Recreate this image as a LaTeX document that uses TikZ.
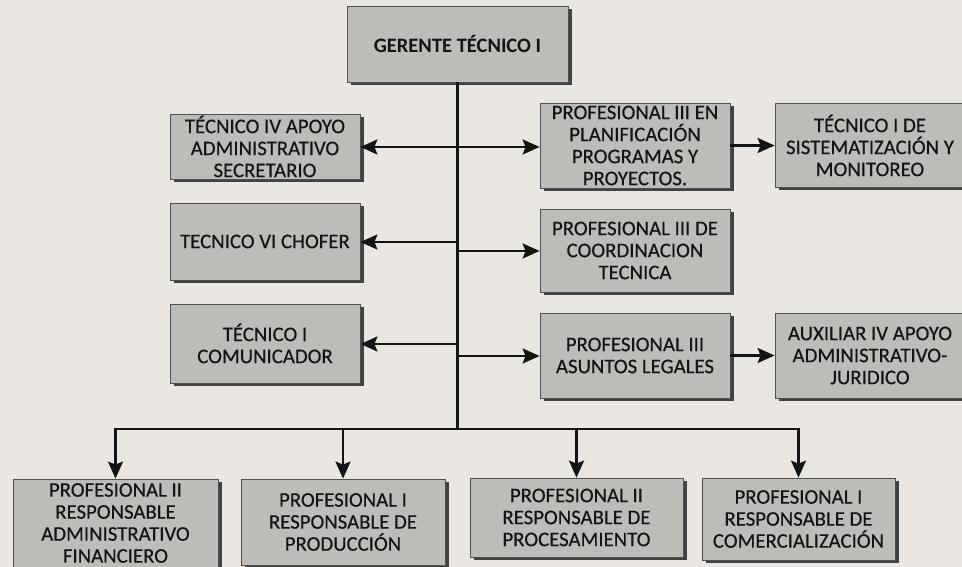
\documentclass[tikz,border=0pt]{standalone}
\usepackage{fontspec}
\setmainfont{Carlito}
\newfontfamily\cajafont{Carlito}[FakeBold=0.4]
\usetikzlibrary{arrows.meta,shadows}
\definecolor{fondo}{RGB}{234,230,225}
\definecolor{caja}{RGB}{190,188,184}
\definecolor{borde}{RGB}{80,80,80}
\definecolor{sombra}{RGB}{65,65,65}
\definecolor{tinta}{RGB}{20,20,20}
\begin{document}
\begin{tikzpicture}[x=1pt,y=1pt,yscale=-1,xscale=1,
  puesto/.style={draw=borde,line width=0.8pt,fill=caja,inner sep=0pt,align=center,text=tinta,
    font=\cajafont\fontsize{20.8}{22}\selectfont,
    drop shadow={shadow xshift=4pt,shadow yshift=-3pt,fill=sombra,opacity=1}},
  linea/.style={line width=2.4pt,draw=tinta},
  flecha/.style={linea,-{Stealth[length=17pt,width=15pt,inset=3pt]}}]
\useasboundingbox (0,0) rectangle (962,567);
\clip (0,0) rectangle (962,567);
%Shape: Background
\fill[fondo] (0,0) rectangle (962,567);
%Shape: Rectangle (top)
\node[puesto,font=\bfseries\fontsize{20.5}{22}\selectfont,minimum width=221pt,minimum height=76pt] (gerente) at (457.5,44) {GERENTE TÉCNICO I};
%Shape: Rectangle (left column)
\node[puesto,minimum width=190pt,minimum height=65pt] (apoyo) at (265,146.5) {TÉCNICO IV APOYO\\ADMINISTRATIVO\\SECRETARIO};
\node[puesto,minimum width=190pt,minimum height=77pt] (chofer) at (265,241.5) {TECNICO VI CHOFER};
\node[puesto,minimum width=190pt,minimum height=79pt] (comunic) at (265,343.5) {TÉCNICO I\\COMUNICADOR};
%Shape: Rectangle (middle column)
\node[puesto,minimum width=190pt,minimum height=85pt] (planif) at (635,145.5) {PROFESIONAL III EN\\PLANIFICACIÓN\\PROGRAMAS Y\\PROYECTOS.};
\node[puesto,minimum width=190pt,minimum height=83pt] (coord) at (635,250.5) {PROFESIONAL III DE\\COORDINACION\\TECNICA};
\node[puesto,minimum width=190pt,minimum height=85pt] (legal) at (635,355.5) {PROFESIONAL III\\ASUNTOS LEGALES};
%Shape: Rectangle (right column)
\node[puesto,minimum width=190pt,minimum height=84pt] (sistem) at (870,145.5) {TÉCNICO I DE\\SISTEMATIZACIÓN Y\\MONITOREO};
\node[puesto,minimum width=190pt,minimum height=85pt] (auxil) at (870,355.5) {AUXILIAR IV APOYO\\ADMINISTRATIVO-\\JURIDICO};
%Shape: Rectangle (bottom row)
\node[puesto,minimum width=205pt,minimum height=88pt] (finan) at (115.5,523) {PROFESIONAL II\\RESPONSABLE\\ADMINISTRATIVO\\FINANCIERO};
\node[puesto,minimum width=204pt,minimum height=86pt] (produc) at (343,522) {PROFESIONAL I\\RESPONSABLE DE\\PRODUCCIÓN};
\node[puesto,minimum width=213pt,minimum height=79pt] (proces) at (576.5,517.5) {PROFESIONAL II\\RESPONSABLE DE\\PROCESAMIENTO};
\node[puesto,minimum width=193pt,minimum height=82pt] (comerc) at (798.5,519) {PROFESIONAL I\\RESPONSABLE DE\\COMERCIALIZACIÓN};
%Straight Lines (trunk and bus)
\coordinate (bus) at (457.5,429);
\draw[linea] (gerente) -- (bus);
\draw[flecha] (bus) -| (finan);
\draw[flecha] (bus) -| (produc);
\draw[flecha] (bus) -| (proces);
\draw[flecha] (bus) -| (comerc);
%Straight Lines (branches)
\coordinate (f1) at (457.5,147);
\coordinate (f2i) at (457.5,242);
\coordinate (f2d) at (457.5,251);
\coordinate (f3i) at (457.5,344);
\coordinate (f3d) at (457.5,356);
\draw[flecha] (f1) -- (f1 -| apoyo.east);
\draw[flecha] (f1) -- (f1 -| planif.west);
\draw[flecha] (f2i) -- (f2i -| chofer.east);
\draw[flecha] (f2d) -- (f2d -| coord.west);
\draw[flecha] (f3i) -- (f3i -| comunic.east);
\draw[flecha] (f3d) -- (f3d -| legal.west);
\draw[flecha] (planif.east) -- (planif.east -| sistem.west);
\draw[flecha] (legal.east) -- (legal.east -| auxil.west);
\end{tikzpicture}
\end{document}
